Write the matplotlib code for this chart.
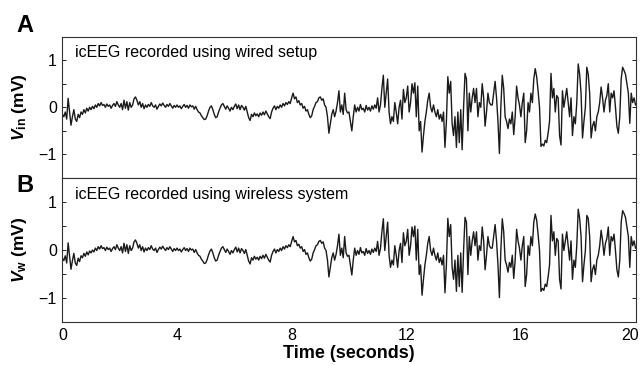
import matplotlib
matplotlib.use("Agg")
import matplotlib.pyplot as plt
import matplotlib.transforms as mtransforms
import numpy as np

plt.rcParams['font.family'] = ['Liberation Sans', 'DejaVu Sans']
plt.rcParams['mathtext.fontset'] = 'custom'
plt.rcParams['mathtext.rm'] = 'Liberation Sans'
plt.rcParams['mathtext.bf'] = 'Liberation Sans:bold'
plt.rcParams['mathtext.it'] = 'Liberation Sans:italic'
plt.rcParams['mathtext.bfit'] = 'Liberation Sans:italic:bold'

# icEEG traces, one row per second (0.05 s steps)
wired = [
    -0.15, -0.2, -0.1, -0.25, 0.19, -0.1, -0.38, -0.2, -0.05, -0.25, -0.3, -0.15, -0.22, -0.1, -0.15, -0.05, -0.12, -0.02, -0.08, 0.0,
    -0.05, 0.02, -0.03, 0.05, 0.0, 0.08, 0.03, 0.1, 0.04, 0.06, 0.0, 0.07, 0.02, 0.05, -0.02, 0.04, 0.08, 0.02, 0.12, 0.05,
    0.0, 0.08, -0.05, 0.15, -0.02, 0.12, -0.06, 0.1, 0.0, 0.05, 0.18, 0.22, 0.15, 0.05, 0.12, 0.0, 0.08, -0.03, 0.05, 0.0,
    0.06, 0.02, 0.1, 0.03, 0.0, 0.05, -0.04, 0.02, 0.07, 0.03, 0.09, 0.04, 0.0, 0.06, 0.02, 0.08, 0.03, -0.02, 0.04, 0.0,
    0.05, 0.0, 0.03, -0.03, 0.02, 0.06, 0.0, 0.04, -0.02, 0.05, 0.01, 0.03, -0.04, 0.02, -0.05, -0.1, -0.12, -0.18, -0.22, -0.26,
    -0.25, -0.18, -0.08, 0.0, 0.03, -0.05, -0.15, -0.22, -0.2, -0.1, -0.02, 0.05, 0.08, 0.02, -0.04, 0.03, -0.02, -0.08, 0.0, -0.05,
    0.02, 0.07, -0.03, 0.05, -0.05, 0.04, 0.0, -0.06, 0.02, -0.1, -0.22, -0.28, -0.15, -0.2, -0.12, -0.18, -0.14, -0.2, -0.12, -0.17,
    -0.1, -0.16, -0.08, -0.14, -0.2, -0.24, -0.1, -0.02, 0.03, -0.05, 0.02, -0.02, 0.05, 0.0, 0.08, 0.03, 0.1, 0.06, 0.12, 0.08,
    0.2, 0.3, 0.18, 0.22, 0.1, 0.14, 0.05, 0.08, -0.02, 0.02, -0.08, -0.05, -0.15, -0.22, -0.18, -0.05, 0.02, 0.1, 0.12, 0.2,
    0.22, 0.15, 0.18, 0.05, 0.0, -0.2, -0.55, -0.35, -0.15, -0.05, -0.2, -0.08, 0.1, 0.35, -0.1, 0.05, -0.15, 0.3, -0.05, -0.12,
    -0.1, -0.3, -0.5, -0.2, 0.05, -0.1, 0.0, -0.08, 0.06, -0.05, -0.02, -0.1, 0.04, -0.06, 0.0, -0.08, 0.03, -0.04, 0.05, -0.02,
    0.2, -0.1, 0.05, 0.4, 0.68, 0.0, 0.3, 0.6, -0.1, -0.35, -0.2, -0.3, 0.1, -0.1, -0.35, 0.0, 0.15, -0.25, 0.38, 0.1,
    0.2, 0.45, -0.1, 0.1, 0.5, 0.3, 0.52, -0.2, 0.45, -0.5, -0.3, -0.95, -0.6, -0.3, -0.1, 0.15, 0.3, 0.0, -0.1, 0.05,
    -0.1, -0.2, -0.05, -0.25, -0.15, -0.3, -0.1, -0.85, -0.3, 0.65, 0.3, 0.55, -0.35, -0.6, -0.2, -0.85, -0.1, -0.75, -0.05, -0.9,
    0.0, 0.72, 0.6, -0.5, 0.3, -0.1, 0.2, 0.4, 0.1, 0.4, -0.2, 0.1, 0.0, 0.5, 0.2, -0.4, -0.1, 0.3, 0.1, 0.05,
    0.05, 0.3, 0.55, 0.2, -0.3, -0.98, 0.0, 0.68, 0.4, -0.2, -0.3, -0.45, -0.25, -0.35, -0.1, -0.58, -0.2, 0.45, 0.2, 0.05,
    -0.2, 0.1, 0.3, -0.75, -0.5, 0.1, -0.1, 0.3, 0.1, 0.6, 0.82, 0.65, 0.35, 0.0, -0.83, -0.78, -0.82, -0.7, -0.75, -0.55,
    -0.3, 0.72, 0.2, 0.4, -0.1, 0.25, 0.2, -0.6, -0.8, 0.35, 0.0, 0.2, 0.4, 0.1, -0.2, 0.2, -0.6, -0.2, -0.35, 0.1,
    0.92, 0.7, 0.3, -0.65, -0.3, 0.0, 0.85, 0.7, 0.3, -0.65, -0.4, -0.3, -0.5, -0.2, -0.1, 0.1, 0.43, 0.2, -0.1, 0.15,
    0.25, 0.5, -0.1, 0.3, 0.2, 0.35, 0.0, -0.4, -0.55, -0.2, 0.6, 0.85, 0.78, 0.7, 0.5, 0.3, -0.34, 0.3, 0.1, 0.2,
    0.05,
]

wireless = [
    -0.17, -0.22, -0.12, -0.27, 0.15, -0.12, -0.4, -0.22, -0.07, -0.27, -0.32, -0.17, -0.24, -0.12, -0.16, -0.07, -0.13, -0.04, -0.1, -0.02,
    -0.06, 0.0, -0.04, 0.04, -0.01, 0.07, 0.02, 0.09, 0.03, 0.05, -0.01, 0.06, 0.01, 0.04, -0.03, 0.03, 0.07, 0.01, 0.11, 0.04,
    -0.01, 0.07, -0.06, 0.14, -0.03, 0.11, -0.07, 0.09, -0.01, 0.04, 0.17, 0.21, 0.14, 0.04, 0.11, -0.01, 0.07, -0.04, 0.04, -0.01,
    0.05, 0.01, 0.09, 0.02, -0.01, 0.04, -0.05, 0.01, 0.06, 0.02, 0.08, 0.03, -0.01, 0.05, 0.01, 0.07, 0.02, -0.03, 0.03, -0.01,
    0.04, -0.01, 0.02, -0.04, 0.01, 0.05, -0.01, 0.03, -0.03, 0.04, 0.0, 0.02, -0.05, 0.01, -0.06, -0.11, -0.13, -0.19, -0.23, -0.28,
    -0.27, -0.2, -0.1, -0.02, 0.02, -0.06, -0.16, -0.23, -0.21, -0.11, -0.03, 0.04, 0.07, 0.01, -0.05, 0.02, -0.03, -0.09, -0.01, -0.06,
    0.01, 0.06, -0.04, 0.04, -0.06, 0.03, -0.01, -0.07, 0.01, -0.11, -0.23, -0.29, -0.16, -0.21, -0.13, -0.19, -0.15, -0.21, -0.13, -0.18,
    -0.11, -0.17, -0.09, -0.15, -0.21, -0.25, -0.11, -0.03, 0.02, -0.06, 0.01, -0.03, 0.04, -0.01, 0.07, 0.02, 0.09, 0.05, 0.11, 0.07,
    0.18, 0.28, 0.17, 0.2, 0.09, 0.12, 0.04, 0.07, -0.03, 0.01, -0.09, -0.06, -0.16, -0.23, -0.19, -0.06, 0.01, 0.09, 0.11, 0.18,
    0.2, 0.14, 0.17, 0.04, -0.01, -0.21, -0.56, -0.36, -0.16, -0.06, -0.21, -0.09, 0.09, 0.33, -0.11, 0.04, -0.16, 0.28, -0.06, -0.13,
    -0.11, -0.31, -0.52, -0.21, 0.04, -0.11, -0.01, -0.09, 0.05, -0.06, -0.03, -0.11, 0.03, -0.07, -0.01, -0.09, 0.02, -0.05, 0.04, -0.03,
    0.18, -0.11, 0.04, 0.38, 0.65, -0.01, 0.28, 0.58, -0.11, -0.36, -0.21, -0.31, 0.09, -0.11, -0.36, -0.01, 0.14, -0.26, 0.36, 0.09,
    0.18, 0.43, -0.11, 0.09, 0.48, 0.28, 0.5, -0.21, 0.43, -0.51, -0.31, -0.94, -0.61, -0.31, -0.11, 0.14, 0.28, -0.01, -0.11, 0.04,
    -0.11, -0.21, -0.06, -0.26, -0.16, -0.31, -0.11, -0.89, -0.31, 0.66, 0.28, 0.53, -0.36, -0.61, -0.21, -0.86, -0.11, -0.76, -0.06, -0.88,
    -0.01, 0.68, 0.58, -0.51, 0.28, -0.11, 0.19, 0.38, 0.09, 0.38, -0.21, 0.09, -0.01, 0.48, 0.19, -0.41, -0.11, 0.28, 0.09, 0.04,
    0.04, 0.28, 0.53, 0.19, -0.31, -0.99, -0.01, 0.65, 0.38, -0.21, -0.31, -0.46, -0.26, -0.36, -0.11, -0.59, -0.21, 0.43, 0.19, 0.04,
    -0.21, 0.09, 0.28, -0.76, -0.51, 0.09, -0.11, 0.28, 0.09, 0.58, 0.75, 0.62, 0.33, -0.01, -0.86, -0.8, -0.84, -0.71, -0.76, -0.56,
    -0.31, 0.72, 0.19, 0.38, -0.11, 0.24, 0.19, -0.61, -0.81, 0.33, -0.01, 0.19, 0.38, 0.09, -0.21, 0.19, -0.61, -0.21, -0.36, 0.09,
    0.85, 0.66, 0.28, -0.66, -0.31, -0.01, 0.72, 0.66, 0.28, -0.66, -0.41, -0.31, -0.51, -0.21, -0.11, 0.09, 0.41, 0.19, -0.11, 0.14,
    0.24, 0.48, -0.11, 0.28, 0.19, 0.33, -0.01, -0.41, -0.56, -0.21, 0.58, 0.82, 0.76, 0.68, 0.48, 0.28, -0.36, 0.28, 0.09, 0.19,
    0.04,
]

t_end = 20.0
time = np.linspace(0, t_end, len(wired))

panel_labels = ["A", "B"]
titles = ["icEEG recorded using wired setup", "icEEG recorded using wireless system"]
ylabels = [r"$\mathbfit{V}_{\mathbf{in}}$ (mV)", r"$\mathbfit{V}_{\mathbf{w}}$ (mV)"]
xticks = [0, 4, 8, 12, 16, 20]

fig = plt.figure(figsize=(6.4, 3.66), dpi=100)
ax1 = fig.add_axes([0.0975, 0.5137, 0.8955, 0.3863])
ax2 = fig.add_axes([0.0975, 0.12, 0.8955, 0.3937], sharex=ax1)

for ax, y, title, ylab in zip([ax1, ax2], [wired, wireless], titles, ylabels):
    ax.plot(time, y, color="#1a1a1a", lw=1.0)
    ax.set_xlim(0, t_end)
    ax.set_ylim(-1.5, 1.5)
    ax.set_yticks([-1, 0, 1])
    ax.set_yticklabels(["\u22121", "0", "1"])
    ax.set_yticks([-1, -0.5, 0, 0.5, 1], minor=True)
    ax.tick_params(axis="y", which="both", direction="in", left=True, right=True,
                   length=3, width=0.6, labelsize=11.5, pad=4)
    ax.tick_params(axis="x", direction="in", length=0, labelsize=11.5, pad=4)
    for s in ax.spines.values():
        s.set_linewidth(0.8)
        s.set_color("#333333")
    ax.text(0.022, 0.94, title, transform=ax.transAxes, fontsize=11.5,
            va="top", ha="left")
    ax.set_ylabel(ylab, fontsize=12.5, fontweight="bold")
    ax.yaxis.set_label_coords(-0.058, 0.5)

ax1.tick_params(axis="x", labelbottom=False)
ax2.set_xticks(xticks)
ax2.set_xlabel("Time (seconds)", fontsize=13, fontweight="bold", labelpad=2)

# nudge the last tick label ("20") slightly left so it stays inside the canvas
last = ax2.get_xticklabels()[-1]
last.set_transform(last.get_transform() +
                   mtransforms.ScaledTranslation(-5 / 100, 0, fig.dpi_scale_trans))

fig.text(0.039, 0.929, panel_labels[0], fontsize=17, fontweight="bold", ha="center", va="center")
fig.text(0.039, 0.494, panel_labels[1], fontsize=17, fontweight="bold", ha="center", va="center")

fig.savefig("out.png", dpi=100)
